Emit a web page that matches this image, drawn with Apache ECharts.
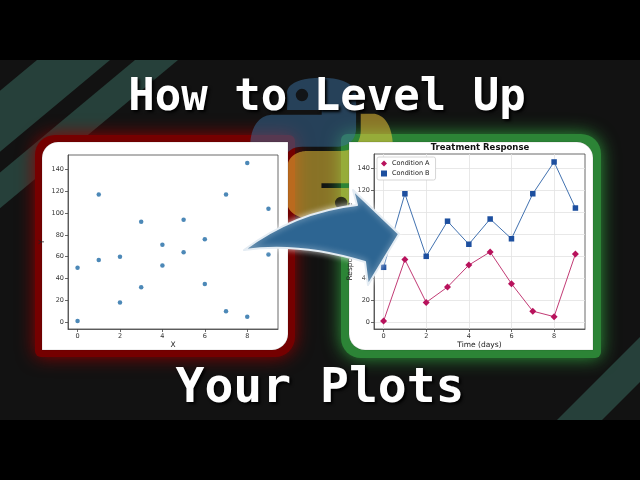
<!DOCTYPE html>
<html><head><meta charset="utf-8">
<script src="https://cdn.jsdelivr.net/npm/echarts@6/dist/echarts.min.js"></script>
<style>html,body{margin:0;padding:0;background:#000;}#c{width:640px;height:480px;}</style>
</head><body><div id="c"></div>
<script>
const days = [0, 1, 2, 3, 4, 5, 6, 7, 8, 9];
const conditionA = [1, 57, 18, 32, 52, 64, 35, 10, 5, 62];
const conditionB = [50, 117, 60, 92, 71, 94, 76, 117, 146, 104];
const xTicks = [0, 2, 4, 6, 8];
const yTicks = [0, 20, 40, 60, 80, 100, 120, 140];
const seriesNames = ['Condition A', 'Condition B'];
const titleTop = 'How to Level Up';
const titleBottom = 'Your Plots';
const chartTitle = 'Treatment Response';
const leftXName = 'X', leftYName = 'Y';
const rightXName = 'Time (days)', rightYName = 'Response Magnitude';

const pairsA = days.map((d, i) => [d, conditionA[i]]);
const pairsB = days.map((d, i) => [d, conditionB[i]]);

const FONT = 'DejaVu Sans';
function xAxis(grid, name, split) {
  return {
    type: 'value', gridIndex: grid, min: -0.45, max: 9.45, splitNumber: 5,
    name: name, nameLocation: 'middle', nameGap: 11,
    nameTextStyle: { fontSize: 7.5, color: '#222', fontFamily: FONT },
    axisLine: { show: true, onZero: false, lineStyle: { color: '#444', width: 0.8 } },
    axisTick: { show: true, customValues: xTicks, length: 3, lineStyle: { color: '#444', width: 0.8 } },
    axisLabel: { customValues: xTicks, fontSize: 6.5, color: '#333', margin: 4, fontFamily: FONT },
    splitLine: { show: split, lineStyle: { color: '#e2e2e2', width: 0.8 } }
  };
}
function yAxis(grid, name, gap, split) {
  return {
    type: 'value', gridIndex: grid, min: -6.25, max: 153.25, splitNumber: 8,
    name: name, nameLocation: 'middle', nameGap: gap,
    nameTextStyle: { fontSize: 7.5, color: '#222', fontFamily: FONT },
    axisLine: { show: true, onZero: false, lineStyle: { color: '#444', width: 0.8 } },
    axisTick: { show: true, customValues: yTicks, length: 3, lineStyle: { color: '#444', width: 0.8 } },
    axisLabel: { customValues: yTicks, fontSize: 6.5, color: '#333', margin: 4, fontFamily: FONT },
    splitLine: { show: split, lineStyle: { color: '#e2e2e2', width: 0.8 } }
  };
}

const blueSnake = 'M126.916.072c-64.832 0-60.784 28.115-60.784 28.115l.072 29.128h61.868v8.745H41.631S.145 61.355.145 126.77c0 65.417 36.21 63.097 36.21 63.097h21.61v-30.356s-1.165-36.21 35.632-36.21h61.362s34.475.557 34.475-33.319V33.97S194.67.072 126.916.072z';
const yellowSnake = 'M128.757 254.126c64.832 0 60.784-28.115 60.784-28.115l-.072-29.127H127.6v-8.745h86.441s41.486 4.705 41.486-60.712c0-65.416-36.21-63.096-36.21-63.096h-21.61v30.355s1.165 36.21-35.632 36.21h-61.362s-34.475-.557-34.475 33.32v56.013s-5.235 33.897 62.518 33.897z';
const arrowPath = 'M244,250 Q295,212 357,205 L353,190 L399,234 L368,285 L365,262 Q300,242 244,250 Z';
echarts.graphic.registerShape('pyBlue', echarts.graphic.extendPath(blueSnake, {}));
echarts.graphic.registerShape('pyYellow', echarts.graphic.extendPath(yellowSnake, {}));
echarts.graphic.registerShape('bigArrow', echarts.graphic.extendPath(arrowPath, {}));
const LX = 250, LY = 77.8, LS = 0.56;

const graphics = [
  { type: 'rect', z: -20, shape: { x: 0, y: 60, width: 640, height: 360 }, style: { fill: '#121212' } },
  { type: 'polygon', z: -19, shape: { points: [[37, 60], [110, 60], [-118, 250], [-191, 250]] }, style: { fill: '#26403a' } },
  { type: 'polygon', z: -19, shape: { points: [[135, 60], [178, 60], [-50, 250], [-93, 250]] }, style: { fill: '#26403a' } },
  { type: 'polygon', z: -19, shape: { points: [[557, 420], [602, 420], [702, 320], [657, 320]] }, style: { fill: '#26403a' } },
  { type: 'rect', z: -18, shape: { x: 35, y: 135, width: 260, height: 222, r: [20, 6, 20, 6] },
    style: { fill: '#750000', shadowBlur: 18, shadowColor: '#900000' } },
  { type: 'rect', z: -18, shape: { x: 341, y: 134, width: 260, height: 224, r: [6, 20, 6, 20] },
    style: { fill: '#2c8436', shadowBlur: 18, shadowColor: '#2f9a3c' } },
  { type: 'pyBlue', z: -17, x: LX, y: LY, scaleX: LS, scaleY: LS, style: { fill: '#3a70a0', opacity: 0.5 } },
  { type: 'pyYellow', z: -17, x: LX, y: LY, scaleX: LS, scaleY: LS, style: { fill: '#ffd43b', opacity: 0.5 } },
  { type: 'circle', z: -16, shape: { cx: LX + LS * 92.8, cy: LY + LS * 30.79, r: 6.2 }, style: { fill: '#111', opacity: 0.9 } },
  { type: 'circle', z: -16, shape: { cx: LX + LS * 162.87, cy: LY + LS * 223.41, r: 6.2 }, style: { fill: '#111', opacity: 0.8 } },
  { type: 'rect', z: -15, shape: { x: 42, y: 142, width: 246, height: 208, r: [16, 0, 16, 0] }, style: { fill: '#fff', stroke: 'rgba(0,0,0,0.12)', lineWidth: 1 } },
  { type: 'rect', z: -15, shape: { x: 349, y: 142, width: 244, height: 208, r: [0, 16, 0, 16] }, style: { fill: '#fff', stroke: 'rgba(0,0,0,0.12)', lineWidth: 1 } },
  { type: 'text', z: 5, x: 480, y: 148, style: { text: chartTitle, fill: '#111', font: 'bold 8.5px "DejaVu Sans"', align: 'center', verticalAlign: 'middle' } },
  { type: 'bigArrow', z: 50,
    style: { fill: '#2d6592', stroke: '#e4ecf3', lineWidth: 2, lineJoin: 'round', shadowBlur: 6, shadowColor: 'rgba(255,255,255,0.7)' } },
  { type: 'text', z: 60, x: 327, y: 99, style: { text: titleTop, fill: '#fff', font: 'bold 44px "DejaVu Sans Mono"', align: 'center', verticalAlign: 'middle',
    textShadowColor: '#000', textShadowBlur: 3, textShadowOffsetX: 2, textShadowOffsetY: 2 } },
  { type: 'text', z: 60, x: 320, y: 390, style: { text: titleBottom, fill: '#fff', font: 'bold 48px "DejaVu Sans Mono"', align: 'center', verticalAlign: 'middle',
    textShadowColor: '#000', textShadowBlur: 3, textShadowOffsetX: 2, textShadowOffsetY: 2 } }
];

const chart = echarts.init(document.getElementById('c'), null, { renderer: 'canvas', width: 640, height: 480 });
chart.setOption({
  backgroundColor: '#000',
  animation: false,
  textStyle: { fontFamily: FONT },
  graphic: { elements: graphics },
  grid: [
    { left: 68, top: 155, width: 210, height: 174, show: true, borderColor: '#444', borderWidth: 0.8, backgroundColor: 'transparent' },
    { left: 374, top: 154, width: 211, height: 175, show: true, borderColor: '#444', borderWidth: 0.8, backgroundColor: 'transparent' }
  ],
  xAxis: [xAxis(0, leftXName, false), xAxis(1, rightXName, true)],
  yAxis: [yAxis(0, leftYName, 22, false), yAxis(1, rightYName, 20, true)],
  legend: {
    data: [{ name: seriesNames[0], icon: 'diamond' }, { name: seriesNames[1], icon: 'rect' }],
    orient: 'vertical', left: 377, top: 157, itemWidth: 6, itemHeight: 6, itemGap: 3,
    textStyle: { fontSize: 6.5, color: '#222', fontFamily: FONT },
    backgroundColor: '#fff', borderColor: '#ccc', borderWidth: 0.8, borderRadius: 2, padding: [3, 6, 3, 4]
  },
  series: [
    { type: 'scatter', name: 'points', xAxisIndex: 0, yAxisIndex: 0, data: pairsA.concat(pairsB), symbolSize: 4.5, itemStyle: { color: '#1f6aa5' } },
    { type: 'line', name: seriesNames[0], xAxisIndex: 1, yAxisIndex: 1, data: pairsA, symbol: 'diamond', symbolSize: 7,
      lineStyle: { color: '#c23b75', width: 1 }, itemStyle: { color: '#b8125c' } },
    { type: 'line', name: seriesNames[1], xAxisIndex: 1, yAxisIndex: 1, data: pairsB, symbol: 'rect', symbolSize: 5.5,
      lineStyle: { color: '#4272b0', width: 1 }, itemStyle: { color: '#1d4f9f' } }
  ]
});
</script>
</body></html>
